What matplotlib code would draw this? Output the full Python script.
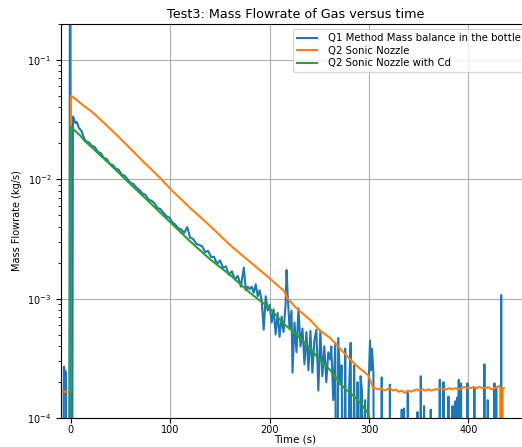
import numpy as np
import matplotlib
matplotlib.use("Agg")
import matplotlib.pyplot as plt

# values, stored as log10(kg/s); -6 means "below the axis"
BOTTOM = -6.0

# Q2 Sonic Nozzle
t_q2 = [-9, -2, -0.5, 0, 5, 10, 22, 40, 56, 75, 90, 100, 120, 140, 160, 180, 200,
        215, 218, 227, 241, 251, 261, 271, 281, 290, 299, 302, 304,
        306, 309, 312, 315, 318, 321, 324, 327, 330, 333, 336, 339, 342, 345,
        348, 351, 354, 357, 360, 363, 366, 369, 372, 375, 378, 381, 384, 387,
        390, 393, 396, 399, 402, 405, 408, 411, 414, 417, 420, 423, 426, 429,
        431, 432, 432.5, 434, 434.5, 435.5]
q2_log = [-3.78, -3.78, -3.78, -1.30, -1.33, -1.365, -1.44, -1.58, -1.71, -1.87,
          -1.99, -2.08, -2.24, -2.39, -2.55, -2.69, -2.83, -2.94, -3.00, -3.08,
          -3.18, -3.27, -3.33, -3.42, -3.51, -3.58, -3.64, -3.70, -3.75,
          -3.75, -3.76, -3.75, -3.77, -3.76, -3.75, -3.77, -3.76, -3.78, -3.77,
          -3.79, -3.77, -3.78, -3.77, -3.76, -3.77, -3.76, -3.77, -3.76, -3.77,
          -3.76, -3.76, -3.75, -3.76, -3.76, -3.75, -3.76, -3.75, -3.76, -3.75,
          -3.74, -3.75, -3.75, -3.74, -3.75, -3.74, -3.75, -3.75, -3.74, -3.76,
          -3.75, -3.74, -3.73, -3.75, BOTTOM, BOTTOM, -3.75, -3.75]

# Q2 Sonic Nozzle with Cd
t_cd = [-9, -0.5, 0, 5, 10, 14, 22, 40, 56, 75, 90, 100, 120, 140, 160, 180,
        200, 214, 227, 241, 251, 261, 274, 285, 292, 299, 302, 320, 435]
cd_log = [-4.06, -4.06, -1.56, -1.60, -1.64, -1.68, -1.74, -1.88, -2.01, -2.16,
          -2.28, -2.36, -2.52, -2.67, -2.80, -2.95, -3.08, -3.21, -3.30, -3.42,
          -3.52, -3.60, -3.74, -3.82, -3.88, -3.96, -4.05, -4.06, -4.06]

# Q1 Method Mass balance in the bottle
t_q1 = [-10, -9.5, -9, -8, -7, -6.5, -6, -5, -4.5, -3, -2, -1, 0, 1, 2, 3, 4, 5, 6,
        7, 8, 9, 10, 11, 12, 13, 14, 15, 18, 21, 24, 27, 30, 33, 36, 39, 42, 45,
        48, 51, 54, 57, 60, 63, 66, 69, 72, 75, 78, 81, 84, 87, 90, 93, 96, 99,
        102, 105, 108, 111, 114, 117, 120, 123, 126, 129, 132, 135, 138, 141,
        144, 147, 150, 153, 156, 159, 162, 165, 168, 171, 174, 176, 178, 180,
        182, 184, 186, 188, 190, 192, 194, 196, 198, 200, 202, 204, 206, 208,
        210, 212, 214, 216, 217, 218, 220, 222, 223, 225, 227, 229, 231, 233,
        235, 237, 239, 241, 243, 245, 247, 249, 251, 253, 255, 257, 259, 261,
        262, 264, 266, 267.5, 269, 271, 272.5, 274, 276, 278, 280, 281.5, 283,
        285, 287, 288.5, 290, 291.5, 293, 294.5, 296, 297.5, 299, 301, 302,
        303, 304.4, 305.5]
q1_log = [-3.51, BOTTOM, BOTTOM, BOTTOM, -3.57, -3.63, -3.60, -3.62, BOTTOM, BOTTOM,
          BOTTOM, 0.0, BOTTOM, BOTTOM, -1.475, -1.49, -1.52, -1.53, -1.52,
          -1.545, -1.57, -1.58, -1.59, -1.60, -1.63, -1.65, -1.67, -1.68,
          -1.69, -1.72, -1.73, -1.77, -1.78, -1.82, -1.83, -1.87, -1.88, -1.91,
          -1.92, -1.96, -1.97, -2.00, -2.03, -2.04, -2.07, -2.09, -2.12, -2.13,
          -2.17, -2.18, -2.20, -2.24, -2.25, -2.28, -2.31, -2.32, -2.36, -2.38,
          -2.41, -2.42, -2.45, -2.40, -2.49, -2.50, -2.54, -2.55, -2.56, -2.61,
          -2.60, -2.65, -2.65, -2.71, -2.68, -2.74, -2.73, -2.80, -2.77, -2.84,
          -2.81, -2.90, -2.74, -2.93, -2.90, -2.92,
          -2.90, -2.95, -2.88, -2.98, -2.93, -3.02, -3.26, -2.98, -3.10, -3.05,
          -3.20, -3.09, -3.30, -3.12, -3.32, -3.15, -3.28, -3.05, -2.76, -2.95,
          -3.25, -3.10, -3.62, -3.20, -3.45, -3.08, -3.40, -3.25, -3.55, -3.28,
          -3.60, -3.27, -3.62, -3.35, -3.26, -3.77, -3.27, -3.65, -3.40, -3.70,
          -3.45, -3.51, -3.40, -3.85, -3.37, BOTTOM, -3.33, -3.72, -3.56, BOTTOM,
          -3.42, BOTTOM, -3.75, -3.37, BOTTOM, -3.56, BOTTOM, -3.70, BOTTOM,
          -3.65, -3.78, BOTTOM, -3.85, BOTTOM, -3.90, -3.35, -3.60, -3.42,
          -3.62, BOTTOM]

# isolated Q1 spikes after the bottle is empty
spike_t = [312.8, 321, 332.9, 335.2, 339, 348.7, 352.1, 355.4, 362.1, 371.2,
           374.9, 379.9, 384, 386.7, 388.7, 390.3, 392.6, 399, 406, 416.1,
           419.5, 426.2, 428, 433]
spike_log = [-3.66, -3.72, -3.93, -3.92, -3.79, -3.95, -3.65, -3.90, -3.93,
             -3.68, -3.70, -3.82, -3.90, -3.86, -3.83, -3.68, -3.71, -3.71,
             -3.74, -3.55, -3.85, -3.71, -3.74, -2.97]

# each spike rises from below the axis and falls back
tail_t, tail_log = [], []
for ts, vs in zip(spike_t, spike_log):
    tail_t += [ts - 0.6, ts, ts + 0.6]
    tail_log += [BOTTOM, vs, BOTTOM]

q1_t = np.array(t_q1 + tail_t)
q1 = 10.0 ** np.array(q1_log + tail_log)
q2 = 10.0 ** np.array(q2_log)
cd = 10.0 ** np.array(cd_log)

fig = plt.figure(figsize=(5.22, 4.47), dpi=100)
# the right edge of the axes (and of the legend) runs just past the picture
ax = fig.add_axes([61 / 522, 29 / 447, (530 - 61) / 522, 394 / 447])

ax.plot(q1_t, q1, color="#1f77b4", linewidth=1.5, label="Q1 Method Mass balance in the bottle")
ax.plot(t_q2, q2, color="#ff7f0e", linewidth=1.5, label="Q2 Sonic Nozzle")
ax.plot(t_cd, cd, color="#2ca02c", linewidth=1.5, label="Q2 Sonic Nozzle with Cd")

ax.set_yscale("log")
ax.set_ylim(1e-4, 0.2)
ax.set_xlim(-10, 462)
ax.set_xticks([0, 100, 200, 300, 400])
ax.grid(True, color="#b0b0b0", linewidth=0.8)
ax.tick_params(labelsize=7)
ax.tick_params(axis="x", pad=1.5)
ax.set_xlabel("Time (s)", fontsize=7.5, labelpad=0)
ax.set_ylabel("Mass Flowrate (kg/s)", fontsize=7, labelpad=4)
ax.set_title("Test3: Mass Flowrate of Gas versus time", fontsize=9.2, pad=4)
ax.legend(loc="upper right", fontsize=7.3, framealpha=0.8, edgecolor="0.8",
          labelspacing=0.25, handletextpad=1.1)

fig.savefig("out.png", dpi=100)
